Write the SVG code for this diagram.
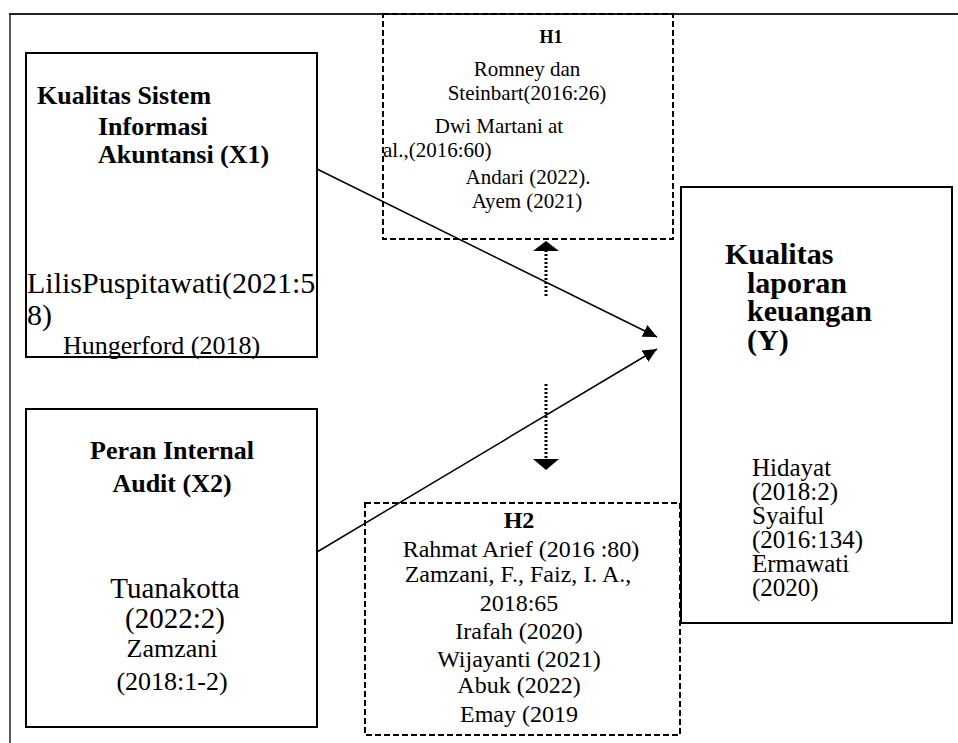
<svg xmlns="http://www.w3.org/2000/svg" width="958" height="743" viewBox="0 0 958 743" font-family="'Liberation Serif', 'DejaVu Serif', serif">
<style>
text{font-family:'Liberation Serif','DejaVu Serif',serif;fill:#000}
.b{font-weight:bold}
.box{fill:none;stroke:#000;stroke-width:2}
.dash{fill:none;stroke:#000;stroke-width:2;stroke-dasharray:6 3}
.conn{stroke:#000;stroke-width:1.5;fill:none}
.dot{stroke:#000;stroke-width:3;stroke-dasharray:2 2;fill:none}
.c{text-anchor:middle}
</style>
<defs>
<marker id="ah" markerUnits="userSpaceOnUse" markerWidth="15" markerHeight="14" refX="14" refY="6.5" orient="auto">
<path d="M0,0 L14,6.5 L0,13 z" fill="#000"/>
</marker>
</defs>
<rect width="958" height="743" fill="#fff"/>
<g id="frame">
<line x1="9" y1="14" x2="958" y2="14" stroke="#222" stroke-width="2"/>
<line x1="10" y1="14" x2="10" y2="743" stroke="#222" stroke-width="1.5"/>
</g>
<g id="x1">
<rect class="box" x="26" y="53" width="291" height="304"/>
<text class="b" font-size="26"><tspan x="37" y="104">Kualitas Sistem</tspan><tspan x="98" y="135">Informasi</tspan><tspan x="98" y="163">Akuntansi (X1)</tspan></text>
<text font-size="30"><tspan x="27" y="293">LilisPuspitawati(2021:5</tspan><tspan x="27" y="325">8)</tspan></text>
<text font-size="26" x="63" y="354">Hungerford (2018)</text>
</g>
<g id="x2">
<rect class="box" x="26" y="409" width="291" height="318"/>
<text class="b c" font-size="26"><tspan x="172" y="459">Peran Internal</tspan><tspan x="172" y="492">Audit (X2)</tspan></text>
<text class="c" font-size="29"><tspan x="175" y="598">Tuanakotta</tspan><tspan x="175" y="628">(2022:2)</tspan></text>
<text class="c" font-size="26"><tspan x="172" y="657">Zamzani</tspan><tspan x="172" y="690">(2018:1-2)</tspan></text>
</g>
<g id="h1">
<rect class="dash" x="383" y="14" width="290" height="225"/>
<text class="b c" font-size="18" x="551" y="43">H1</text>
<text class="c" font-size="21"><tspan x="527" y="76">Romney dan</tspan><tspan x="527" y="100">Steinbart(2016:26)</tspan><tspan x="499" y="133">Dwi Martani at</tspan></text>
<text font-size="21" x="383" y="157">al.,(2016:60)</text>
<text class="c" font-size="21"><tspan x="528" y="184">Andari (2022).</tspan><tspan x="527" y="208">Ayem (2021)</tspan></text>
</g>
<g id="h2">
<rect class="dash" x="365" y="503" width="315" height="232"/>
<text class="b c" font-size="24" x="519" y="528">H2</text>
<text class="c" font-size="24"><tspan x="521" y="557">Rahmat Arief (2016 :80)</tspan><tspan x="518" y="582">Zamzani, F., Faiz, I. A.,</tspan><tspan x="519" y="611">2018:65</tspan><tspan x="519" y="639">Irafah (2020)</tspan><tspan x="519" y="667">Wijayanti (2021)</tspan><tspan x="519" y="693">Abuk (2022)</tspan><tspan x="519" y="722">Emay (2019</tspan></text>
</g>
<g id="y">
<rect class="box" x="681" y="187" width="271" height="436"/>
<text class="b" font-size="30"><tspan x="725" y="264">Kualitas</tspan><tspan x="747" y="293">laporan</tspan><tspan x="747" y="321">keuangan</tspan><tspan x="747" y="350">(Y)</tspan></text>
<text font-size="25"><tspan x="752" y="476">Hidayat</tspan><tspan x="752" y="500">(2018:2)</tspan><tspan x="752" y="524">Syaiful</tspan><tspan x="752" y="548">(2016:134)</tspan><tspan x="752" y="572">Ermawati</tspan><tspan x="752" y="596">(2020)</tspan></text>
</g>
<g id="connectors">
<line class="conn" x1="317" y1="169" x2="657" y2="337" marker-end="url(#ah)"/>
<line class="conn" x1="317" y1="552" x2="657" y2="349" marker-end="url(#ah)"/>
<line class="dot" x1="546" y1="296" x2="546" y2="250"/>
<polygon points="546,241 533,251 559,251" fill="#000"/>
<line class="dot" x1="546" y1="384" x2="546" y2="460"/>
<polygon points="533,459 559,459 546,470" fill="#000"/>
</g>
</svg>
